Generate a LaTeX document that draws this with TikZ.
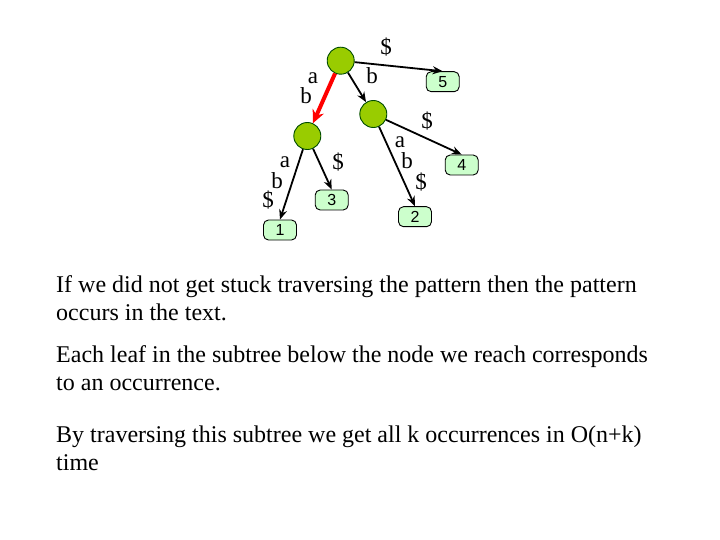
\documentclass[tikz,border=0pt]{standalone}
\usepackage{fontspec}
\setmainfont{Liberation Serif}
\newfontfamily\leaffont{Liberation Sans}
\usetikzlibrary{arrows.meta}
\definecolor{inner}{HTML}{99CC00}
\definecolor{leafc}{HTML}{CCFFCC}
\definecolor{redarr}{HTML}{FF0000}
\tikzset{
  inode/.style={circle,draw=black!70!green,fill=inner,minimum size=27pt,inner sep=0pt,line width=0.9pt},
  leaf/.style={rounded corners=5pt,draw=black,fill=leafc,minimum width=33pt,minimum height=20pt,inner sep=0pt,font=\leaffont\fontsize{16}{16}\selectfont,line width=0.9pt},
  edge/.style={-{Stealth[length=10pt,width=8pt]},line width=1.8pt},
  redge/.style={-{Stealth[length=13pt,width=12pt]},line width=4pt,draw=redarr,color=redarr},
  lab/.style={font=\fontsize{23}{23}\selectfont,inner sep=0pt},
  txt/.style={anchor=base west,inner sep=0pt,font=\fontsize{24}{28}\selectfont}
}
\begin{document}
\begin{tikzpicture}[x=1pt,y=-1pt]
\useasboundingbox (0,0) rectangle (720,540);
\node[inode] (r) at (340.7,60.7) {};
\node[inode] (l) at (307.3,136) {};
\node[inode] (m) at (373.3,114) {};
\node[leaf] (n5) at (442.7,81.7) {5};
\node[leaf] (n4) at (461.7,165) {4};
\node[leaf] (n3) at (331.7,200) {3};
\node[leaf] (n2) at (415,216.7) {2};
\node[leaf] (n1) at (280,230) {1};
\draw[edge] (r) -- (n5.north);
\draw[redge] (r) -- (l);
\draw[edge] (r) -- (m);
\draw[edge] (m) -- (n4.north);
\draw[edge] (m) -- (n2.north);
\draw[edge] (l) -- (n3.north);
\draw[edge] (l) -- (n1.north);
\node[lab] (t1) at (386,47) {\$};
\node[lab] (t2) at (313,78) {a};
\node[lab] (t3) at (306,96) {b};
\node[lab] (t4) at (372,76) {b};
\node[lab] (t5) at (427,121) {\$};
\node[lab] (t6) at (400,142) {a};
\node[lab] (t7) at (407,161) {b};
\node[lab] (t8) at (421,182) {\$};
\node[lab] (t9) at (285,162) {a};
\node[lab] (t10) at (277,181) {b};
\node[lab] (t11) at (268,200) {\$};
\node[lab] (t12) at (338,162) {\$};
\node[txt] (p1a) at (56,292) {If we did not get stuck traversing the pattern then the pattern};
\node[txt] (p1b) at (56,320) {occurs in the text.};
\node[txt] (p2a) at (56,362) {Each leaf in the subtree below the node we reach corresponds};
\node[txt] (p2b) at (56,390) {to an occurrence.};
\node[txt] (p3a) at (56,442) {By traversing this subtree we get all k occurrences in O(n+k)};
\node[txt] (p3b) at (56,470) {time};
\end{tikzpicture}
\end{document}
